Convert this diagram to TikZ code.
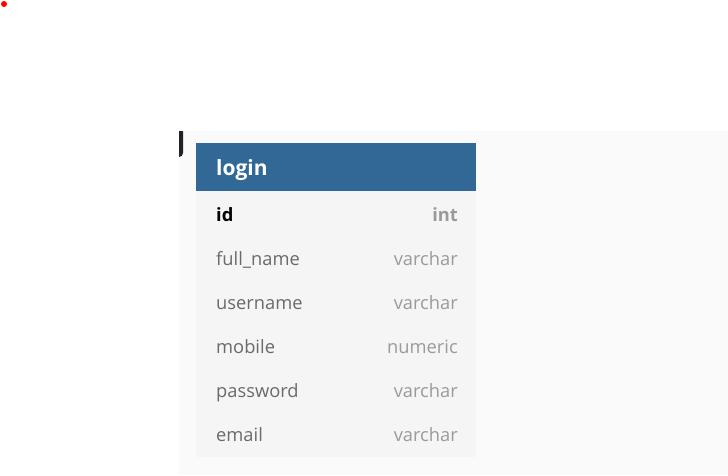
\documentclass[tikz,border=0pt]{standalone}
\usepackage{fontspec}
\setmainfont{Open Sans}
\definecolor{hdr}{HTML}{316896}
\definecolor{bodybg}{HTML}{F5F5F5}
\definecolor{canvas}{HTML}{FAFAFA}
\definecolor{fname}{HTML}{6A6A6A}
\definecolor{ftype}{HTML}{9A9A9A}
\definecolor{bar}{HTML}{1C2228}
\begin{document}
\begin{tikzpicture}[x=1pt,y=-1pt,
  fieldname/.style={anchor=base west,inner sep=0pt,font=\fontsize{18.3}{20}\selectfont,text=fname},
  fieldtype/.style={anchor=base east,inner sep=0pt,font=\fontsize{18.3}{20}\selectfont,text=ftype}]
\useasboundingbox (0,0) rectangle (728,475);
\fill[white] (0,0) rectangle (728,475);
\fill[canvas] (179,131) rectangle (728,475);
\fill[red] (4,4) circle (3);
\fill[bar] (179,131) -- (183,131) -- (183,153) arc[start angle=0,end angle=90,radius=4] -- (179,157) -- cycle;
\fill[bodybg] (196,191) rectangle (476,457);
\fill[hdr] (196,143) rectangle (476,191);
\node[anchor=base west,inner sep=0pt,text=white,font=\fontsize{21}{23}\selectfont\bfseries] (title) at (216,175) {login};
\node[fieldname,text=black,font=\fontsize{18.3}{20}\selectfont\bfseries] (n1) at (216,221) {id};
\node[fieldtype,font=\fontsize{18.3}{20}\selectfont\bfseries] (t1) at (458,221) {int};
\node[fieldname] (n2) at (216,265) {full\_name};
\node[fieldtype] (t2) at (458,265) {varchar};
\node[fieldname] (n3) at (216,309) {username};
\node[fieldtype] (t3) at (458,309) {varchar};
\node[fieldname] (n4) at (216,353) {mobile};
\node[fieldtype] (t4) at (458,353) {numeric};
\node[fieldname] (n5) at (216,397) {password};
\node[fieldtype] (t5) at (458,397) {varchar};
\node[fieldname] (n6) at (216,441) {email};
\node[fieldtype] (t6) at (458,441) {varchar};
\end{tikzpicture}
\end{document}
